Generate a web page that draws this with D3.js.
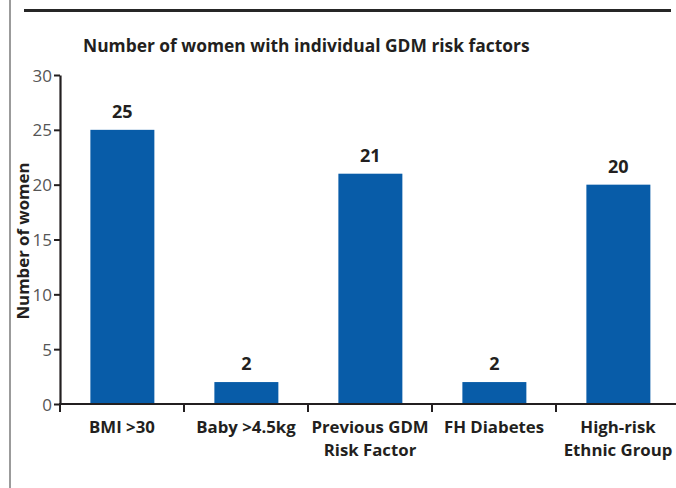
<!DOCTYPE html>
<html><head><meta charset="utf-8">
<script src="https://cdn.jsdelivr.net/npm/d3@7"></script>
<style>body{margin:0;background:#fff}svg{display:block}text{font-family:"Open Sans",sans-serif}</style>
</head><body>
<script>
const categories = [["BMI >30"],["Baby >4.5kg"],["Previous GDM","Risk Factor"],["FH Diabetes"],["High-risk","Ethnic Group"]];
const values = [25, 2, 21, 2, 20];
const yTicks = [0, 5, 10, 15, 20, 25, 30];
const title = "Number of women with individual GDM risk factors";
const yTitle = "Number of women";

const W = 676, H = 488;
const svg = d3.select("body").append("svg").attr("width", W).attr("height", H);
const ink = "#231f20";

// frame lines
svg.append("line").attr("x1",10).attr("x2",10).attr("y1",0).attr("y2",H).attr("stroke","#7a7a7a").attr("stroke-width",1.5);
svg.append("line").attr("x1",24).attr("x2",671).attr("y1",10.5).attr("y2",10.5).attr("stroke","#262626").attr("stroke-width",3);

svg.append("text").attr("x",83).attr("y",52).attr("font-size",17.4).attr("font-weight","bold").attr("fill",ink).text(title);

const idx = categories.map((d,i)=>i);
const x = d3.scaleBand().domain(idx).range([60,680]).padding(0);
const y = d3.scaleLinear().domain([0,30]).range([404,75]);

const bw = x.bandwidth();
svg.selectAll("rect.bar").data(values).join("rect").attr("class","bar")
  .attr("x",(d,i)=>x(i)+bw*0.245).attr("width",bw*0.516)
  .attr("y",d=>y(d)).attr("height",d=>y(0)-y(d)).attr("fill","#085ca8");

svg.selectAll("text.val").data(values).join("text").attr("class","val")
  .attr("x",(d,i)=>x(i)+bw*0.245+bw*0.258).attr("y",d=>y(d)-12)
  .attr("text-anchor","middle").attr("font-size",18).attr("font-weight","bold").attr("fill",ink).text(d=>d);

// y axis
const yAxis = d3.axisLeft(y).tickValues(yTicks).tickSize(6).tickPadding(2).tickSizeOuter(0);
const gy = svg.append("g").attr("transform","translate(60,0)").call(yAxis);
gy.select(".domain").attr("stroke",ink).attr("stroke-width",2.2);
gy.selectAll(".tick line").attr("stroke",ink).attr("stroke-width",2);
gy.selectAll(".tick text").attr("font-size",17).attr("fill","#555").attr("font-family","Open Sans, sans-serif").attr("dy","0.36em");

// x axis
const gx = svg.append("g").attr("transform","translate(0,404)");
gx.append("line").attr("x1",59).attr("x2",676).attr("stroke",ink).attr("stroke-width",2.2);
gx.selectAll("line.xt").data(idx).join("line").attr("class","xt")
  .attr("x1",d=>x(d)).attr("x2",d=>x(d)).attr("y1",0).attr("y2",8).attr("stroke",ink).attr("stroke-width",2);
const lbl = gx.selectAll("text.xl").data(categories).join("text").attr("class","xl")
  .attr("text-anchor","middle").attr("font-size",16.8).attr("font-weight","bold").attr("fill",ink)
  .attr("transform",(d,i)=>`translate(${x(i)+bw/2},29)`);
lbl.selectAll("tspan").data(d=>d).join("tspan").attr("x",0).attr("dy",(d,j)=>j?23:0).text(d=>d);

svg.append("text").attr("transform","translate(29,241) rotate(-90)").attr("text-anchor","middle")
  .attr("font-size",16.8).attr("font-weight","bold").attr("fill",ink).text(yTitle);
</script>
</body></html>
